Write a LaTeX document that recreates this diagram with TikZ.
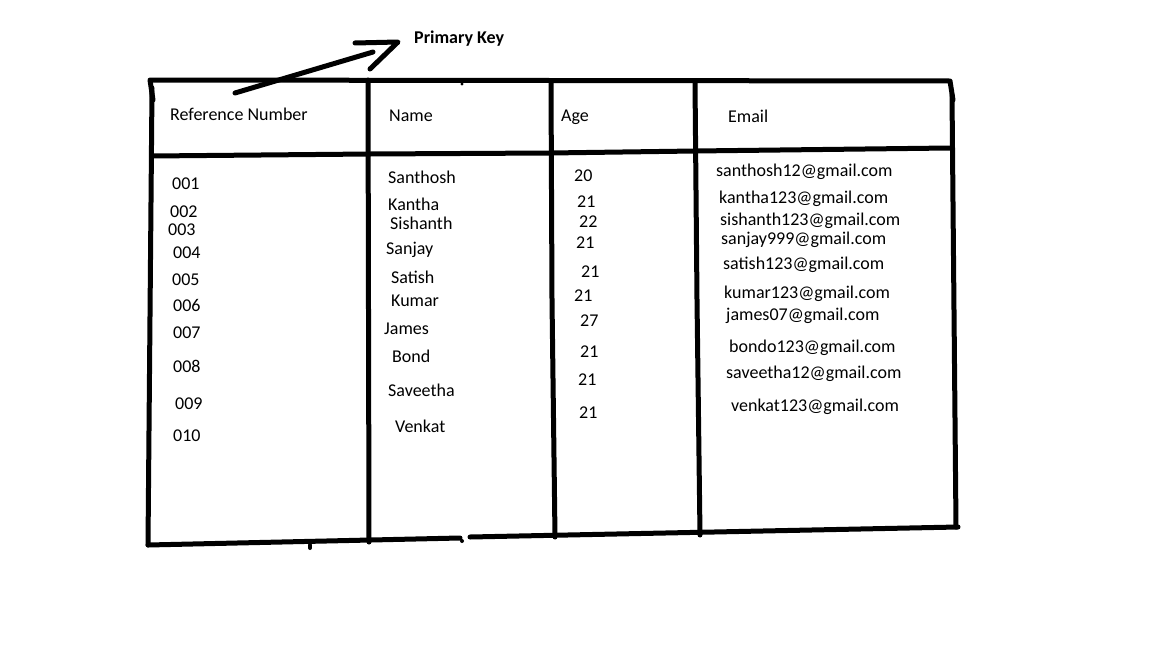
\documentclass[tikz,border=0pt]{standalone}
\usepackage{fontspec}
\setmainfont{Carlito}
\begin{document}
\begin{tikzpicture}[x=1pt,y=-1pt,
  pen/.style={line width=5pt,line cap=round,line join=round,black},
  thin pen/.style={line width=4pt,line cap=round,line join=round,black},
  cell/.style={anchor=base west,inner sep=0pt,font=\fontsize{18}{21}\selectfont},
  keylabel/.style={anchor=base west,inner sep=0pt,font=\fontsize{18}{21}\selectfont\bfseries}]
\useasboundingbox (0,0) rectangle (1151,645);
\fill[white] (0,0) rectangle (1151,645);
% outer frame
\draw[pen] (153,100) -- (150,80) -- (950,81) -- (953,100);
\draw[pen] (152,88) -- (148,545);
\draw[pen] (952,95) -- (956,527);
\draw[pen] (148,545) -- (460,538);
\draw[pen] (470,537) -- (958,527);
\draw[thin pen] (310,545) -- (310,548);
\fill (462,541) circle (2pt);
\fill (462,84) circle (1.6pt);
% header separator
\draw[pen] (152,156) -- (370,154) -- (550,153) -- (695,151) -- (950,148);
% column dividers
\draw[pen] (368,80) -- (369,542);
\draw[pen] (551,82) -- (552,300) -- (555,537);
\draw[pen] (695,82) -- (697,300) -- (700,535);
% header texts
\node[cell] (h1) at (170,120) {Reference Number};
\node[cell] (h2) at (389,121) {Name};
\node[cell] (h3) at (561,121) {Age};
\node[cell] (h4) at (728,122) {Email};
% reference numbers
\node[cell] (r1) at (172,189) {001};
\node[cell] (r2) at (170,217) {002};
\node[cell] (r3) at (168,235) {003};
\node[cell] (r4) at (173,258) {004};
\node[cell] (r5) at (172,285) {005};
\node[cell] (r6) at (173,311) {006};
\node[cell] (r7) at (173,338) {007};
\node[cell] (r8) at (173,372) {008};
\node[cell] (r9) at (175,409) {009};
\node[cell] (r10) at (173,441) {010};
% names
\node[cell] (n1) at (388,183) {Santhosh};
\node[cell] (n2) at (388,210) {Kantha};
\node[cell] (n3) at (390,229) {Sishanth};
\node[cell] (n4) at (386,254) {Sanjay};
\node[cell] (n5) at (391,283) {Satish};
\node[cell] (n6) at (391,306) {Kumar};
\node[cell] (n7) at (384,334) {James};
\node[cell] (n8) at (392,362) {Bond};
\node[cell] (n9) at (388,396) {Saveetha};
\node[cell] (n10) at (395,432) {Venkat};
% ages
\node[cell] (a1) at (574,181) {20};
\node[cell] (a2) at (577,207) {21};
\node[cell] (a3) at (579,227) {22};
\node[cell] (a4) at (576,248) {21};
\node[cell] (a5) at (581,277) {21};
\node[cell] (a6) at (574,301) {21};
\node[cell] (a7) at (580,326) {27};
\node[cell] (a8) at (580,357) {21};
\node[cell] (a9) at (578,385) {21};
\node[cell] (a10) at (579,418) {21};
% emails
\node[cell] (e1) at (716,176) {santhosh12@gmail.com};
\node[cell] (e2) at (719,203) {kantha123@gmail.com};
\node[cell] (e3) at (720,225) {sishanth123@gmail.com};
\node[cell] (e4) at (721,244) {sanjay999@gmail.com};
\node[cell] (e5) at (723,269) {satish123@gmail.com};
\node[cell] (e6) at (724,298) {kumar123@gmail.com};
\node[cell] (e7) at (726,320) {james07@gmail.com};
\node[cell] (e8) at (729,352) {bondo123@gmail.com};
\node[cell] (e9) at (726,378) {saveetha12@gmail.com};
\node[cell] (e10) at (731,411) {venkat123@gmail.com};
% primary key arrow
\node[keylabel] (pk) at (414,43) {Primary Key};
\coordinate (tail) at (235,93);
\coordinate (tip) at (398,42);
\draw[pen] (tail) -- (373,52);
\draw[pen] (355,43) -- (tip) -- (370,69);
\end{tikzpicture}
\end{document}
